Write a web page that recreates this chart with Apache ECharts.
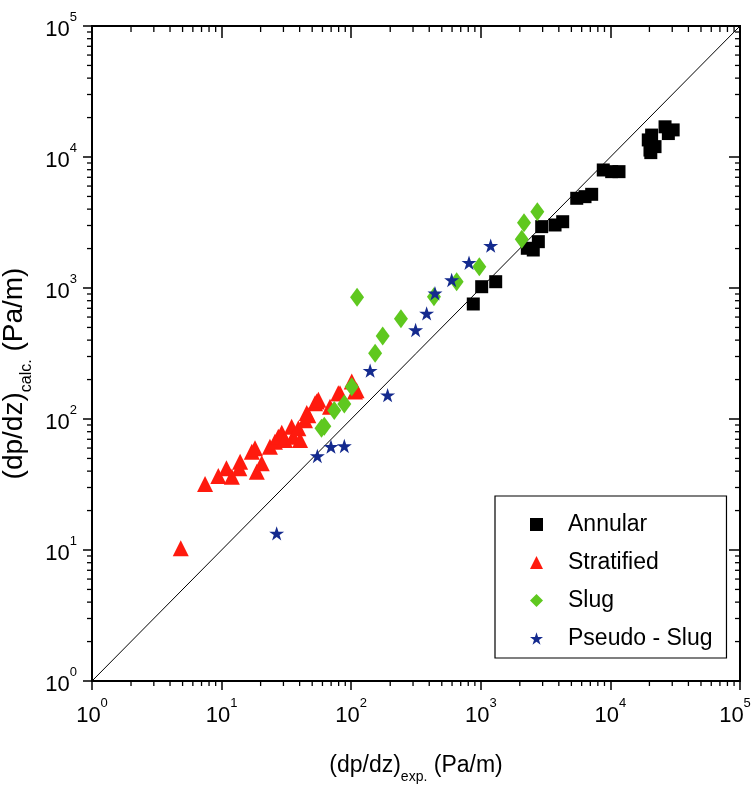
<!DOCTYPE html>
<html>
<head>
<meta charset="utf-8">
<title>Pressure gradient: calculated vs experimental</title>
<script src="https://cdn.jsdelivr.net/npm/echarts@6/dist/echarts.min.js"></script>
<style>
  html, body { margin: 0; padding: 0; background: #ffffff; }
  #chart { width: 753px; height: 788px; }
</style>
</head>
<body>
<div id="chart"></div>
<script>
// Measured vs. calculated two-phase pressure gradient, grouped by flow regime.
// Each pair is [(dp/dz)exp, (dp/dz)calc] in Pa/m.
const annular = [
  [875, 755], [1016, 1023], [1303, 1117], [2285, 2010], [2540, 1950],
  [2780, 2258], [2950, 2940], [3740, 3027], [4285, 3206], [5500, 4840],
  [6370, 4980], [7170, 5190], [8810, 7960], [10230, 7730], [11650, 7730],
  [19600, 13500], [20800, 14700], [20200, 11300], [22100, 12000],
  [20500, 10800], [26400, 17000], [30500, 16100], [28000, 15100]
];
const stratified = [
  [4.84, 10.3], [7.45, 31.9], [9.43, 36.7], [10.9, 42], [12.0, 36.3],
  [13.9, 47.2], [13.7, 42], [17.1, 56.3], [18.1, 59.7], [18.7, 39.6],
  [20.4, 45.9], [23.6, 61.5], [25.8, 67.1], [27.4, 73.3], [29.1, 78.6],
  [30.8, 69.2], [34.7, 87.3], [35.7, 73.3], [39.1, 84.9], [40.3, 69.2],
  [44, 98], [45.4, 111], [46.7, 107], [52.6, 132], [54.2, 136],
  [55.8, 140], [68.6, 124], [79.5, 157], [82, 157], [101, 193],
  [107, 162], [110, 166]
];
const slug = [
  [59, 85], [62, 88], [74, 116], [88.5, 130], [101, 176], [111, 849],
  [153, 317], [175, 430], [242, 583], [435, 858], [651, 1117], [974, 1455],
  [2070, 2353], [2155, 3155], [2730, 3825]
];
const pseudoSlug = [
  [26.6, 13.4], [54.8, 52.2], [69.8, 61.5], [88.5, 62.2], [140, 234],
  [191, 152], [314, 478], [382, 640], [443, 912], [596, 1151],
  [811, 1560], [1192, 2104]
];
// Perfect-agreement line y = x across the plotted range
const parity = [[1, 1], [100000, 100000]];

// Axis range and the in-between log ticks (2..9 within each decade)
const AXIS_MIN = 1;
const AXIS_MAX = 100000;
const DECADE_STARTS = [1, 10, 100, 1000, 10000];
const MINOR_STEPS = [2, 3, 4, 5, 6, 7, 8, 9];
const minorTicks = [];
DECADE_STARTS.forEach(d => MINOR_STEPS.forEach(k => minorTicks.push([k * d, k * d])));

const SERIES_NAMES = ['Annular', 'Stratified', 'Slug', 'Pseudo - Slug'];
const COLORS = ['#000000', '#ff1a0e', '#5fc81f', '#142a8e'];

const FONT = "'Liberation Sans', Arial, sans-serif";
const STAR = 'path://M50,2 L61.5,37 L98,37 L68.5,58.5 L79.5,94 L50,72 L20.5,94 L31.5,58.5 L2,37 L38.5,37 Z';

// Decade labels as 10 with a raised exponent; the last one on the x axis
// is nudged left so it stays inside the page.
function powerLabel(value) {
  const e = Math.round(Math.log10(value));
  return '{b|10}{s|' + e + '}';
}
function powerLabelX(value) {
  const e = Math.round(Math.log10(value));
  return value >= AXIS_MAX ? '{b|10}{se|' + e + '}' : '{b|10}{s|' + e + '}';
}
const powerRich = {
  b: { fontFamily: FONT, fontSize: 22, lineHeight: 30, verticalAlign: 'bottom', color: '#000' },
  s: { fontFamily: FONT, fontSize: 13, lineHeight: 13, verticalAlign: 'top', color: '#000' },
  se: { fontFamily: FONT, fontSize: 13, lineHeight: 13, verticalAlign: 'top', color: '#000', padding: [0, 10, 0, 0] }
};

function logAxis(extra) {
  return Object.assign({
    type: 'log',
    logBase: 10,
    min: AXIS_MIN,
    max: AXIS_MAX,
    show: true,
    gridIndex: 0,
    offset: 0,
    axisLine: { show: true, onZero: false, lineStyle: { color: '#000', width: 2 } },
    splitLine: { show: false },
    minorTick: { show: false },
    minorSplitLine: { show: false }
  }, extra);
}

const chart = echarts.init(document.getElementById('chart'), null, { renderer: 'canvas' });

chart.setOption({
  backgroundColor: '#ffffff',
  animation: false,
  grid: {
    left: 92, right: 13, top: 26, bottom: 107,
    containLabel: false, outerBoundsMode: 'none',
    show: true, borderColor: '#000', borderWidth: 2, backgroundColor: 'transparent'
  },
  xAxis: [
    logAxis({
      position: 'bottom',
      axisTick: { show: true, inside: false, length: 9, lineStyle: { color: '#000', width: 1.5 } },
      axisLabel: { margin: 16, formatter: powerLabelX, rich: powerRich, hideOverlap: false },
      name: '{m|(dp/dz)}{s|exp.}{m| (Pa/m)}',
      nameLocation: 'middle',
      nameGap: 73,
      nameTextStyle: {
        rich: {
          m: { fontFamily: FONT, fontSize: 23, lineHeight: 30, verticalAlign: 'top', color: '#000' },
          s: { fontFamily: FONT, fontSize: 14, lineHeight: 8, verticalAlign: 'bottom', color: '#000' }
        }
      }
    }),
    logAxis({
      position: 'top',
      axisTick: { show: true, inside: true, length: 12, lineStyle: { color: '#000', width: 1.5 } },
      axisLabel: { show: false }
    })
  ],
  yAxis: [
    logAxis({
      position: 'left',
      axisTick: { show: true, inside: false, length: 9, lineStyle: { color: '#000', width: 1.5 } },
      axisLabel: { margin: 15, formatter: powerLabel, rich: powerRich, hideOverlap: false },
      name: '{m|(dp/dz)}{s|calc.}{m| (Pa/m)}',
      nameLocation: 'middle',
      nameGap: 48,
      nameTextStyle: {
        padding: [0, 40, 0, 0],
        rich: {
          m: { fontFamily: FONT, fontSize: 28, lineHeight: 34, verticalAlign: 'top', color: '#000' },
          s: { fontFamily: FONT, fontSize: 16, lineHeight: 14, verticalAlign: 'bottom', color: '#000' }
        }
      }
    }),
    logAxis({
      position: 'right',
      axisTick: { show: true, inside: true, length: 11, lineStyle: { color: '#000', width: 1.5 } },
      axisLabel: { show: false }
    })
  ],
  legend: {
    data: SERIES_NAMES,
    orient: 'vertical',
    left: 495,
    top: 496,
    padding: [15, 14, 6, 35],
    itemWidth: 13,
    itemHeight: 13,
    itemGap: 11,
    symbolKeepAspect: true,
    borderColor: '#000',
    borderWidth: 1.2,
    backgroundColor: '#ffffff',
    textStyle: { fontFamily: FONT, fontSize: 23, lineHeight: 27, color: '#000', padding: [0, 0, 0, 20] }
  },
  series: [
    {
      name: 'parity',
      type: 'line',
      data: parity,
      showSymbol: false,
      symbol: 'none',
      lineStyle: { color: '#000', width: 1 },
      silent: true,
      z: 1
    },
    {
      name: 'minor ticks',
      type: 'custom',
      data: minorTicks,
      clip: false,
      silent: true,
      z: 5,
      encode: { x: 0, y: 1 },
      renderItem: function (params, api) {
        const v = api.value(0);
        const cs = params.coordSys;
        const px = api.coord([v, AXIS_MIN])[0];
        const py = api.coord([AXIS_MIN, v])[1];
        const left = cs.x, right = cs.x + cs.width;
        const top = cs.y, bottom = cs.y + cs.height;
        const style = { stroke: '#000', lineWidth: 1.3 };
        return {
          type: 'group',
          children: [
            { type: 'line', shape: { x1: px, y1: bottom, x2: px, y2: bottom + 5 }, style: style },
            { type: 'line', shape: { x1: px, y1: top, x2: px, y2: top + 6 }, style: style },
            { type: 'line', shape: { x1: left, y1: py, x2: left - 5, y2: py }, style: style },
            { type: 'line', shape: { x1: right, y1: py, x2: right - 5, y2: py }, style: style }
          ]
        };
      }
    },
    {
      name: 'Annular', type: 'scatter', data: annular,
      symbol: 'rect', symbolSize: 13,
      itemStyle: { color: COLORS[0], opacity: 1 }, z: 3
    },
    {
      name: 'Stratified', type: 'scatter', data: stratified,
      symbol: 'triangle', symbolSize: 16,
      itemStyle: { color: COLORS[1], opacity: 1 }, z: 3
    },
    {
      name: 'Slug', type: 'scatter', data: slug,
      symbol: 'diamond', symbolSize: [14, 19],
      itemStyle: { color: COLORS[2], opacity: 1 }, z: 4
    },
    {
      name: 'Pseudo - Slug', type: 'scatter', data: pseudoSlug,
      symbol: STAR, symbolSize: 15, symbolKeepAspect: true,
      itemStyle: { color: COLORS[3], opacity: 1 }, z: 4
    }
  ]
});
</script>
</body>
</html>
